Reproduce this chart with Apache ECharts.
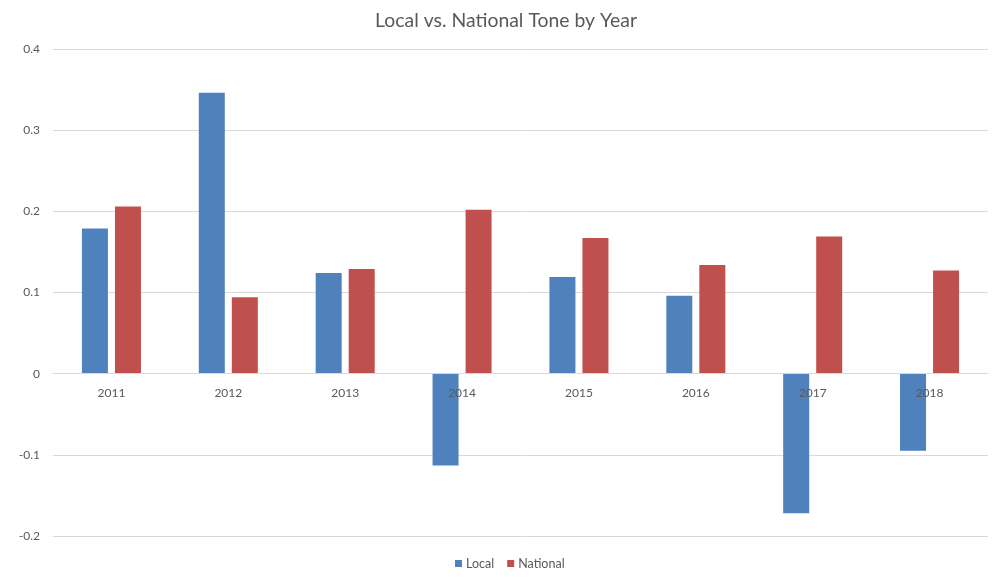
<!DOCTYPE html>
<html>
<head>
<meta charset="utf-8">
<script src="https://cdn.jsdelivr.net/npm/echarts@6/dist/echarts.min.js"></script>
<style>
  html, body { margin: 0; padding: 0; background: #fff; }
  #chart { width: 992px; height: 585px; }
</style>
</head>
<body>
<div id="chart"></div>
<script>
// Yearly average tone, local vs. national coverage
const years = ['2011', '2012', '2013', '2014', '2015', '2016', '2017', '2018'];
const localTone = [0.179, 0.346, 0.124, -0.113, 0.119, 0.096, -0.172, -0.095];
const nationalTone = [0.206, 0.094, 0.129, 0.202, 0.167, 0.134, 0.169, 0.127];
const yTicks = { min: -0.2, max: 0.4, step: 0.1 };

const font = 'Lato, "Open Sans", sans-serif';
const textColor = '#595959';

const gridTop = 49, gridBottom = 49, chartHeight = 585;
// Lift the category axis (line + labels) up to the zero line
const plotHeight = chartHeight - gridTop - gridBottom;
const zeroOffset = -plotHeight * (0 - yTicks.min) / (yTicks.max - yTicks.min);

const chart = echarts.init(document.getElementById('chart'));
chart.setOption({
  animation: false,
  title: {
    text: 'Local vs. National Tone by Year',
    left: 370,
    top: 6,
    textStyle: { fontFamily: font, fontSize: 19.4, fontWeight: 'normal', color: textColor }
  },
  legend: {
    bottom: 10,
    left: 450,
    itemWidth: 7,
    itemHeight: 7,
    itemGap: 13,
    icon: 'rect',
    textStyle: { fontFamily: font, fontSize: 12.5, color: textColor, padding: [0, 0, 0, -1] },
    data: ['Local', 'National']
  },
  grid: { left: 53, right: 4, top: gridTop, bottom: gridBottom, containLabel: false },
  xAxis: {
    type: 'category',
    data: years,
    z: 10,
    offset: zeroOffset,
    axisLine: { onZero: false, lineStyle: { color: '#D9D9D9', width: 1 } },
    axisTick: { show: false },
    axisLabel: { fontFamily: font, fontSize: 12, color: textColor, margin: 13 }
  },
  yAxis: {
    type: 'value',
    min: yTicks.min,
    max: yTicks.max,
    interval: yTicks.step,
    axisLine: { show: false },
    axisTick: { show: false },
    splitLine: { lineStyle: { color: '#D9D9D9', width: 1 } },
    axisLabel: {
      fontFamily: font, fontSize: 12, color: textColor, margin: 13,
      formatter: v => String(Math.round(v * 10) / 10)
    }
  },
  series: [
    {
      name: 'Local',
      type: 'bar',
      data: localTone,
      barWidth: 26,
      barGap: '27%',
      itemStyle: { color: '#4F81BD' }
    },
    {
      name: 'National',
      type: 'bar',
      data: nationalTone,
      barWidth: 26,
      itemStyle: { color: '#C0504D' }
    }
  ]
});
</script>
</body>
</html>
